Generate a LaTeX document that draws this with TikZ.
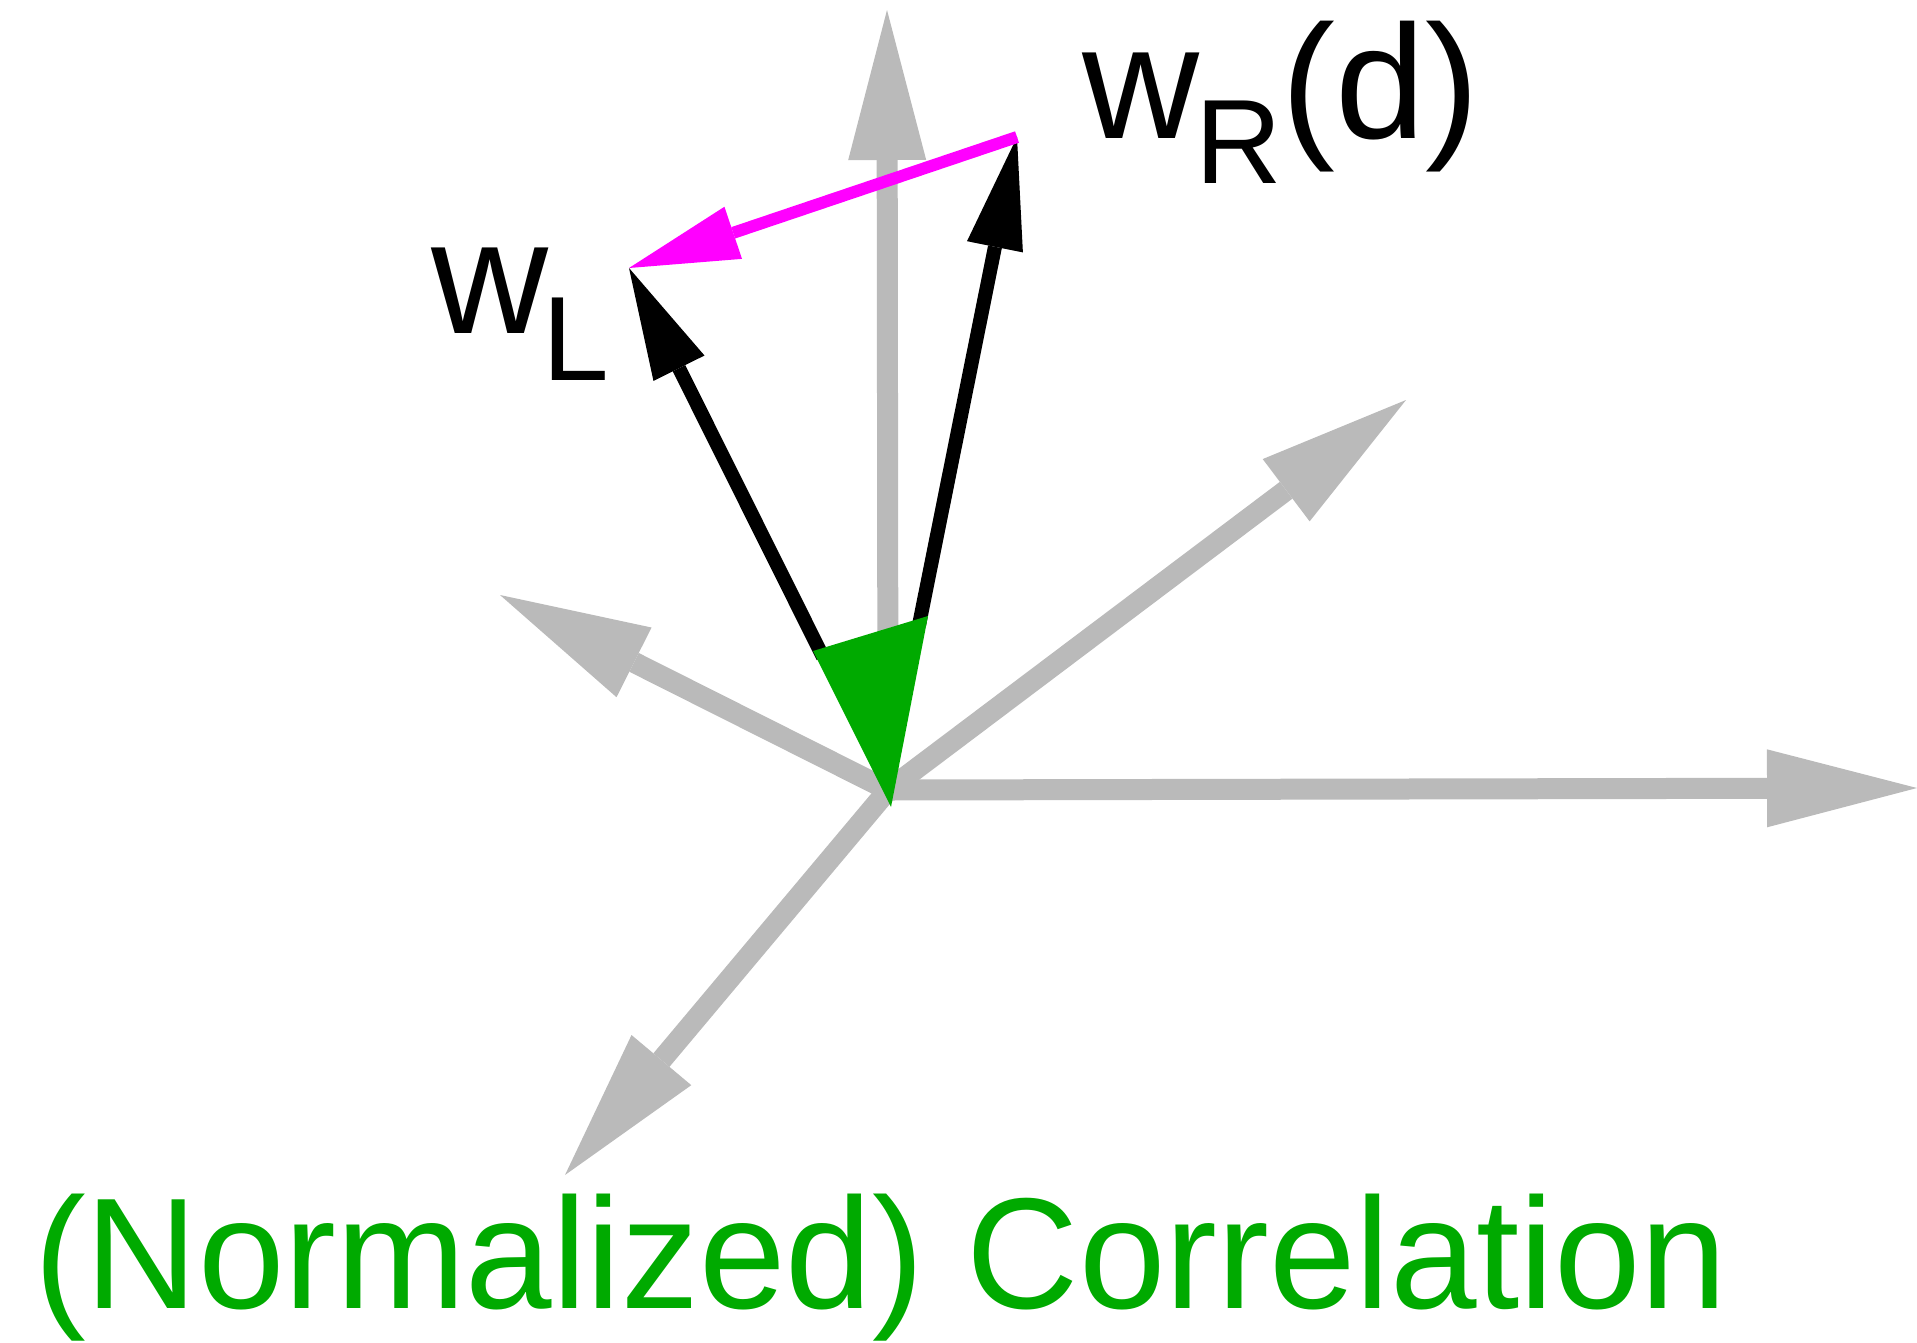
\documentclass[tikz,border=0pt]{standalone}
\usepackage{fontspec}
\setmainfont{Liberation Sans}
\usetikzlibrary{arrows.meta}
\definecolor{axgray}{RGB}{186,186,186}
\definecolor{corrgreen}{RGB}{0,170,0}
\definecolor{diffmag}{RGB}{255,0,255}
\begin{document}
\begin{tikzpicture}[x=1pt,y=-1pt,
  axis/.style={draw=axgray, line width=21pt, -{Triangle[length=150pt,width=78pt,line width=0pt]}},
  wvec/.style={draw=black, line width=14pt, -{Triangle[length=112pt,width=57pt,line width=0pt]}},
  diffvec/.style={draw=diffmag, line width=12pt, -{Triangle[length=110pt,width=55pt,line width=0pt]}},
  lbl/.style={inner sep=0pt, anchor=base west}]
\useasboundingbox (0,0) rectangle (1917,1342);
% axes
\coordinate (O) at (888,790);
\coordinate (up) at (887,10);
\coordinate (ur) at (1406,400);
\coordinate (rt) at (1917,788);
\coordinate (ul) at (500,595);
\coordinate (ll) at (565,1175);
\draw[axis] (O) -- (up);
\draw[axis] (O) -- (ur);
\draw[axis] (O) -- (rt);
\draw[axis] (O) -- (ul);
\draw[axis] (O) -- (ll);
% vectors
\coordinate (wls) at (823,657);
\coordinate (wrs) at (919,625);
\coordinate (wl) at (629,268);
\coordinate (wr) at (1017,137);
\draw[wvec] (wls) -- (wl);
\draw[wvec] (wrs) -- (wr);
% correlation angle
\coordinate (t1) at (813,651);
\coordinate (t2) at (928,616);
\coordinate (t3) at (891,807);
\fill[corrgreen] (t1) -- (t2) -- (t3) -- cycle;
% difference
\draw[diffvec] (wr) -- (wl);
% labels
\node[lbl] (wrlabel) at (1082,138) {\fontsize{162}{170}\selectfont w\kern-4pt\raisebox{-45pt}{\fontsize{120}{126}\selectfont R}(d)};
\node[lbl] (wllabel) at (431,333) {\fontsize{162}{170}\selectfont w\kern-6pt\raisebox{-47pt}{\fontsize{120}{126}\selectfont L}};
\node[lbl, text=corrgreen] (corr) at (34,1308) {\scalebox{0.984}[1]{\fontsize{158}{166}\selectfont (Normalized) Correlation}};
\end{tikzpicture}
\end{document}
